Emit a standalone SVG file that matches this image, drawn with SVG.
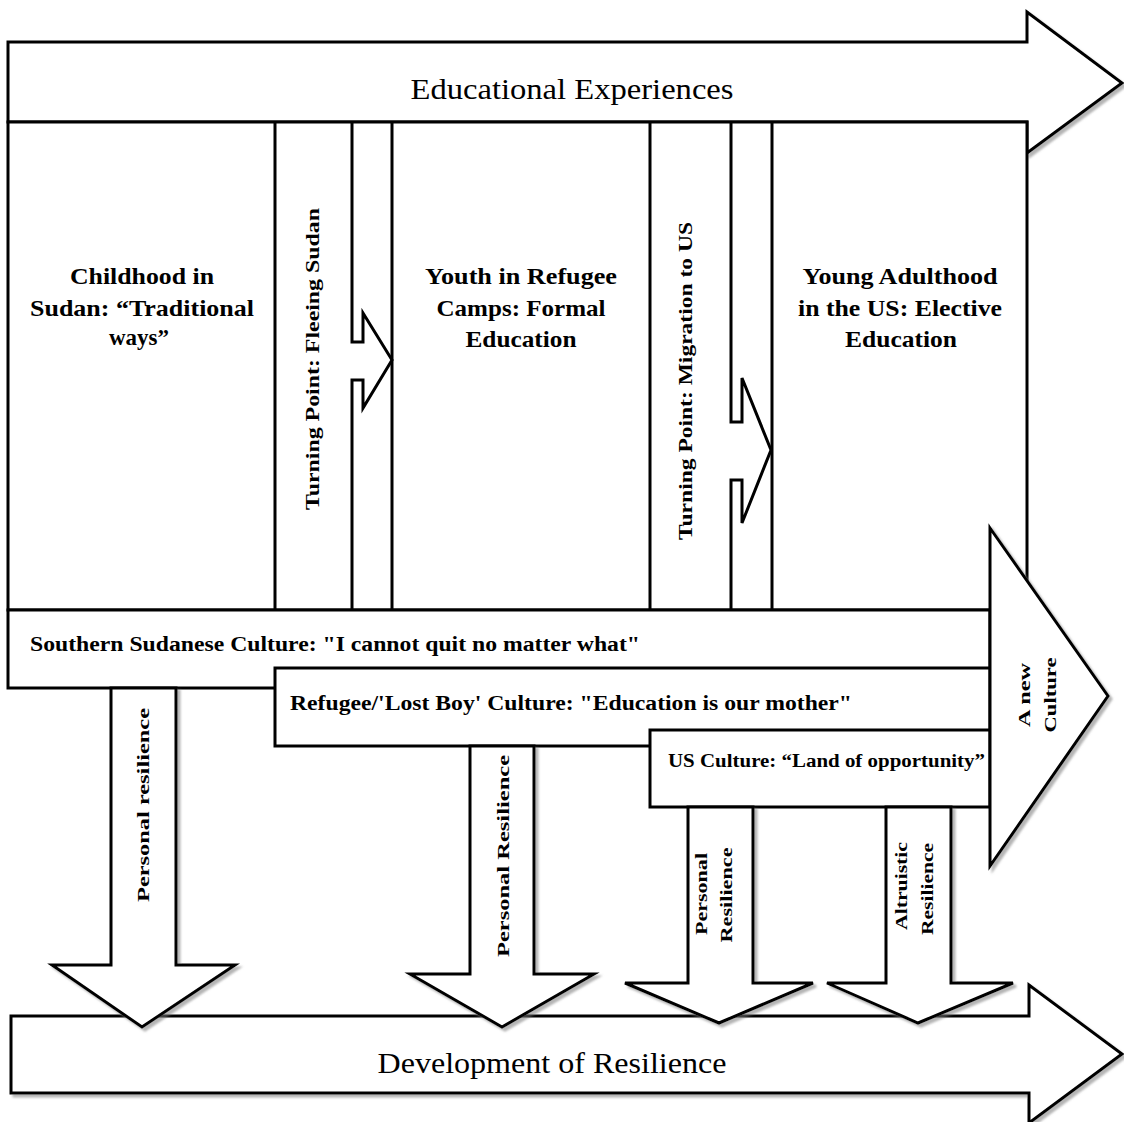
<svg xmlns="http://www.w3.org/2000/svg" width="1124" height="1122" viewBox="0 0 1124 1122">
<defs>
<filter id="sh" x="-5%" y="-5%" width="115%" height="115%">
<feDropShadow dx="3" dy="3" stdDeviation="1.2" flood-color="#777" flood-opacity="0.55"/>
</filter>
</defs>
<style>
.s{fill:#fff;stroke:#000;stroke-width:3;stroke-linejoin:miter}
.l{fill:none;stroke:#000;stroke-width:3}
.t{font-family:"Liberation Serif","DejaVu Serif",serif;fill:#000}
.h{font-size:30px;text-anchor:middle}
.p{font-size:24px;text-anchor:middle;font-weight:bold}
.c{font-size:20px;font-weight:bold}
.r{font-size:18px;text-anchor:middle;font-weight:bold}
.r2{font-size:16px;text-anchor:middle;font-weight:bold}
</style>
<rect width="1124" height="1122" fill="#fff"/>

<g id="educational-experiences">
<polygon class="s" filter="url(#sh)" points="8,42 1027,42 1027,12 1122,83 1027,153 1027,122 8,122"/>
<text class="t h" x="572" y="99" textLength="323" lengthAdjust="spacingAndGlyphs">Educational Experiences</text>
</g>

<g id="panel">
<rect class="s" x="8" y="122" width="1019" height="488"/>
<line class="l" x1="275" y1="122" x2="275" y2="610"/>
<line class="l" x1="392" y1="122" x2="392" y2="610"/>
<line class="l" x1="650" y1="122" x2="650" y2="610"/>
<line class="l" x1="772" y1="122" x2="772" y2="610"/>
</g>

<g id="childhood">
<text class="t p" x="142" y="284" textLength="144" lengthAdjust="spacingAndGlyphs">Childhood in</text>
<text class="t p" x="142" y="316" textLength="224" lengthAdjust="spacingAndGlyphs">Sudan: “Traditional</text>
<text class="t p" x="139" y="345" textLength="60" lengthAdjust="spacingAndGlyphs">ways”</text>
</g>

<g id="youth">
<text class="t p" x="521" y="284" textLength="192" lengthAdjust="spacingAndGlyphs">Youth in Refugee</text>
<text class="t p" x="521" y="316" textLength="169" lengthAdjust="spacingAndGlyphs">Camps: Formal</text>
<text class="t p" x="521" y="347" textLength="111" lengthAdjust="spacingAndGlyphs">Education</text>
</g>

<g id="young-adulthood">
<text class="t p" x="900" y="284" textLength="195" lengthAdjust="spacingAndGlyphs">Young Adulthood</text>
<text class="t p" x="900" y="316" textLength="204" lengthAdjust="spacingAndGlyphs">in the US: Elective</text>
<text class="t p" x="901" y="347" textLength="112" lengthAdjust="spacingAndGlyphs">Education</text>
</g>

<g id="turning-point-1">
<text class="t r" transform="translate(313,359) rotate(-90)" y="6" textLength="302" lengthAdjust="spacingAndGlyphs">Turning Point: Fleeing Sudan</text>
</g>
<g id="turning-point-2">
<text class="t r" transform="translate(686,381) rotate(-90)" y="6" textLength="318" lengthAdjust="spacingAndGlyphs">Turning Point: Migration to US</text>
</g>

<g id="southern-sudanese-culture">
<rect class="s" x="8" y="610" width="982" height="78"/>
<text class="t c" x="30" y="651" textLength="610" lengthAdjust="spacingAndGlyphs">Southern Sudanese Culture: "I cannot quit no matter what"</text>
</g>
<g id="refugee-culture">
<rect class="s" x="275" y="668" width="715" height="78"/>
<text class="t c" x="290" y="710" textLength="562" lengthAdjust="spacingAndGlyphs">Refugee/'Lost Boy' Culture: "Education is our mother"</text>
</g>
<g id="us-culture">
<rect class="s" x="650" y="730" width="340" height="77"/>
<text class="t c" style="font-size:18px" x="668" y="767" textLength="317" lengthAdjust="spacingAndGlyphs">US Culture: “Land of opportunity”</text>
</g>

<g id="new-culture">
<polygon class="s" filter="url(#sh)" points="990,528 1108,696 990,866"/>
<text class="t r" style="font-size:17px" transform="translate(1024,695) rotate(-90)" y="6" textLength="64" lengthAdjust="spacingAndGlyphs">A new</text>
<text class="t r" style="font-size:17px" transform="translate(1050,695) rotate(-90)" y="6" textLength="75" lengthAdjust="spacingAndGlyphs">Culture</text>
</g>

<g id="development-of-resilience">
<polygon class="s" filter="url(#sh)" points="11,1016 1029,1016 1029,985 1122,1054 1029,1123 1029,1093 11,1093"/>
<text class="t h" x="552" y="1073" textLength="349" lengthAdjust="spacingAndGlyphs">Development of Resilience</text>
</g>

<g id="connectors">
<path class="l" d="M352,122 V342 H363 V313 L392,360 L363,408 V380 H352 V610"/>
<path class="l" d="M731,122 V422 H742 V378 L771,450 L742,523 V480 H731 V610"/>
<polygon class="s" filter="url(#sh)" points="111,688 176,688 176,965 235,965 142,1027 52,965 111,965"/>
<polygon class="s" filter="url(#sh)" points="470,746 534,746 534,974 594,974 502,1027 410,974 470,974"/>
<polygon class="s" filter="url(#sh)" points="688,807 753,807 753,983 813,983 719,1023 625,983 688,983"/>
<polygon class="s" filter="url(#sh)" points="886,807 951,807 951,983 1013,983 918,1023 827,983 886,983"/>
</g>

<g id="resilience-labels">
<text class="t r" style="font-size:17px" transform="translate(143,805) rotate(-90)" y="6" textLength="194" lengthAdjust="spacingAndGlyphs">Personal resilience</text>
<text class="t r" style="font-size:17px" transform="translate(503,856) rotate(-90)" y="6" textLength="202" lengthAdjust="spacingAndGlyphs">Personal Resilience</text>
<text class="t r2" transform="translate(701,894) rotate(-90)" y="6" textLength="82" lengthAdjust="spacingAndGlyphs">Personal</text>
<text class="t r2" transform="translate(726,895) rotate(-90)" y="6" textLength="95" lengthAdjust="spacingAndGlyphs">Resilience</text>
<text class="t r2" transform="translate(901,886) rotate(-90)" y="6" textLength="88" lengthAdjust="spacingAndGlyphs">Altruistic</text>
<text class="t r2" transform="translate(927,889) rotate(-90)" y="6" textLength="92" lengthAdjust="spacingAndGlyphs">Resilience</text>
</g>
</svg>
